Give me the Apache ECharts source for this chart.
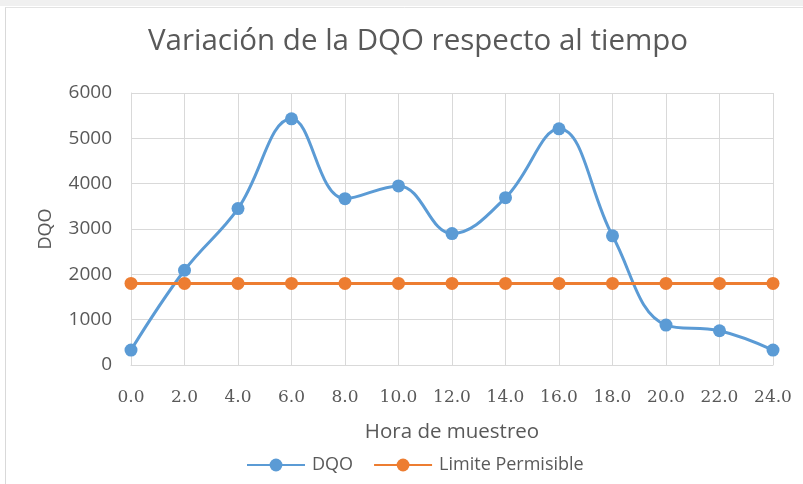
<!DOCTYPE html>
<html><head><meta charset="utf-8">
<script src="https://cdn.jsdelivr.net/npm/echarts@6/dist/echarts.min.js"></script>
<style>html,body{margin:0;padding:0;background:#fff}#c{width:803px;height:484px}</style>
</head><body><div id="c"></div>
<script>
var hours = [0, 2, 4, 6, 8, 10, 12, 14, 16, 18, 20, 22, 24];
var dqo = [330, 2090, 3450, 5430, 3670, 3950, 2900, 3690, 5210, 2850, 880, 755, 330];
var limite = [1800, 1800, 1800, 1800, 1800, 1800, 1800, 1800, 1800, 1800, 1800, 1800, 1800];
var yTicks = [0, 1000, 2000, 3000, 4000, 5000, 6000];

var chart = echarts.init(document.getElementById('c'));
var gray = '#595959';
chart.setOption({
  animation: false,
  backgroundColor: '#fff',
  graphic: [
    {type: 'rect', shape: {x: 0, y: 0, width: 803, height: 6}, style: {fill: '#f0f0f0'}, silent: true},
    {type: 'line', shape: {x1: 5.5, y1: 7, x2: 5.5, y2: 484}, style: {stroke: '#d9d9d9', lineWidth: 1}, silent: true},
    {type: 'line', shape: {x1: 5.5, y1: 7.5, x2: 803, y2: 7.5}, style: {stroke: '#e3e3e3', lineWidth: 1}, silent: true}
  ],
  title: {
    text: 'Variación de la DQO respecto al tiempo',
    left: 413, textAlign: 'center', top: 22,
    textStyle: {fontFamily: 'Open Sans', fontSize: 29.5, fontWeight: 'normal', color: gray}
  },
  grid: {left: 131, right: 30, top: 93, bottom: 119},
  legend: {
    top: 451, left: 241, itemWidth: 58, itemHeight: 16, itemGap: 20,
    textStyle: {fontFamily: 'Open Sans', fontSize: 18, color: gray, padding: [0, 0, 0, 2]},
    data: ['DQO', 'Limite Permisible']
  },
  xAxis: {
    type: 'value', min: 0, max: 24, interval: 2,
    name: 'Hora de muestreo', nameLocation: 'middle', nameGap: 57,
    nameTextStyle: {fontFamily: 'Open Sans', fontSize: 20.5, color: gray},
    axisLine: {show: true, lineStyle: {color: '#d9d9d9', width: 1}},
    axisTick: {show: false},
    axisLabel: {margin: 24, fontFamily: 'DejaVu Serif', fontSize: 17, color: gray,
      formatter: function (v) { return v.toFixed(1); }},
    splitLine: {show: true, lineStyle: {color: '#d9d9d9', width: 1}}
  },
  yAxis: {
    type: 'value', min: yTicks[0], max: yTicks[yTicks.length - 1], interval: 1000,
    name: 'DQO', nameLocation: 'middle', nameGap: 76, nameRotate: 90,
    nameTextStyle: {fontFamily: 'Open Sans', fontSize: 18, color: gray},
    axisLine: {show: true, lineStyle: {color: '#d9d9d9'}},
    axisTick: {show: false},
    axisLabel: {margin: 19, fontFamily: 'Open Sans', fontSize: 19, color: gray,
      formatter: function (v) { return String(v); }},
    splitLine: {show: true, lineStyle: {color: '#d9d9d9', width: 1}}
  },
  series: [
    {
      name: 'DQO', type: 'line', smooth: 0.4,
      data: hours.map(function (h, i) { return [h, dqo[i]]; }),
      symbol: 'circle', symbolSize: 13,
      lineStyle: {color: '#5B9BD5', width: 3},
      itemStyle: {color: '#5B9BD5'}
    },
    {
      name: 'Limite Permisible', type: 'line',
      data: hours.map(function (h, i) { return [h, limite[i]]; }),
      symbol: 'circle', symbolSize: 13,
      lineStyle: {color: '#ED7D31', width: 3},
      itemStyle: {color: '#ED7D31'}
    }
  ]
});
</script></body></html>
